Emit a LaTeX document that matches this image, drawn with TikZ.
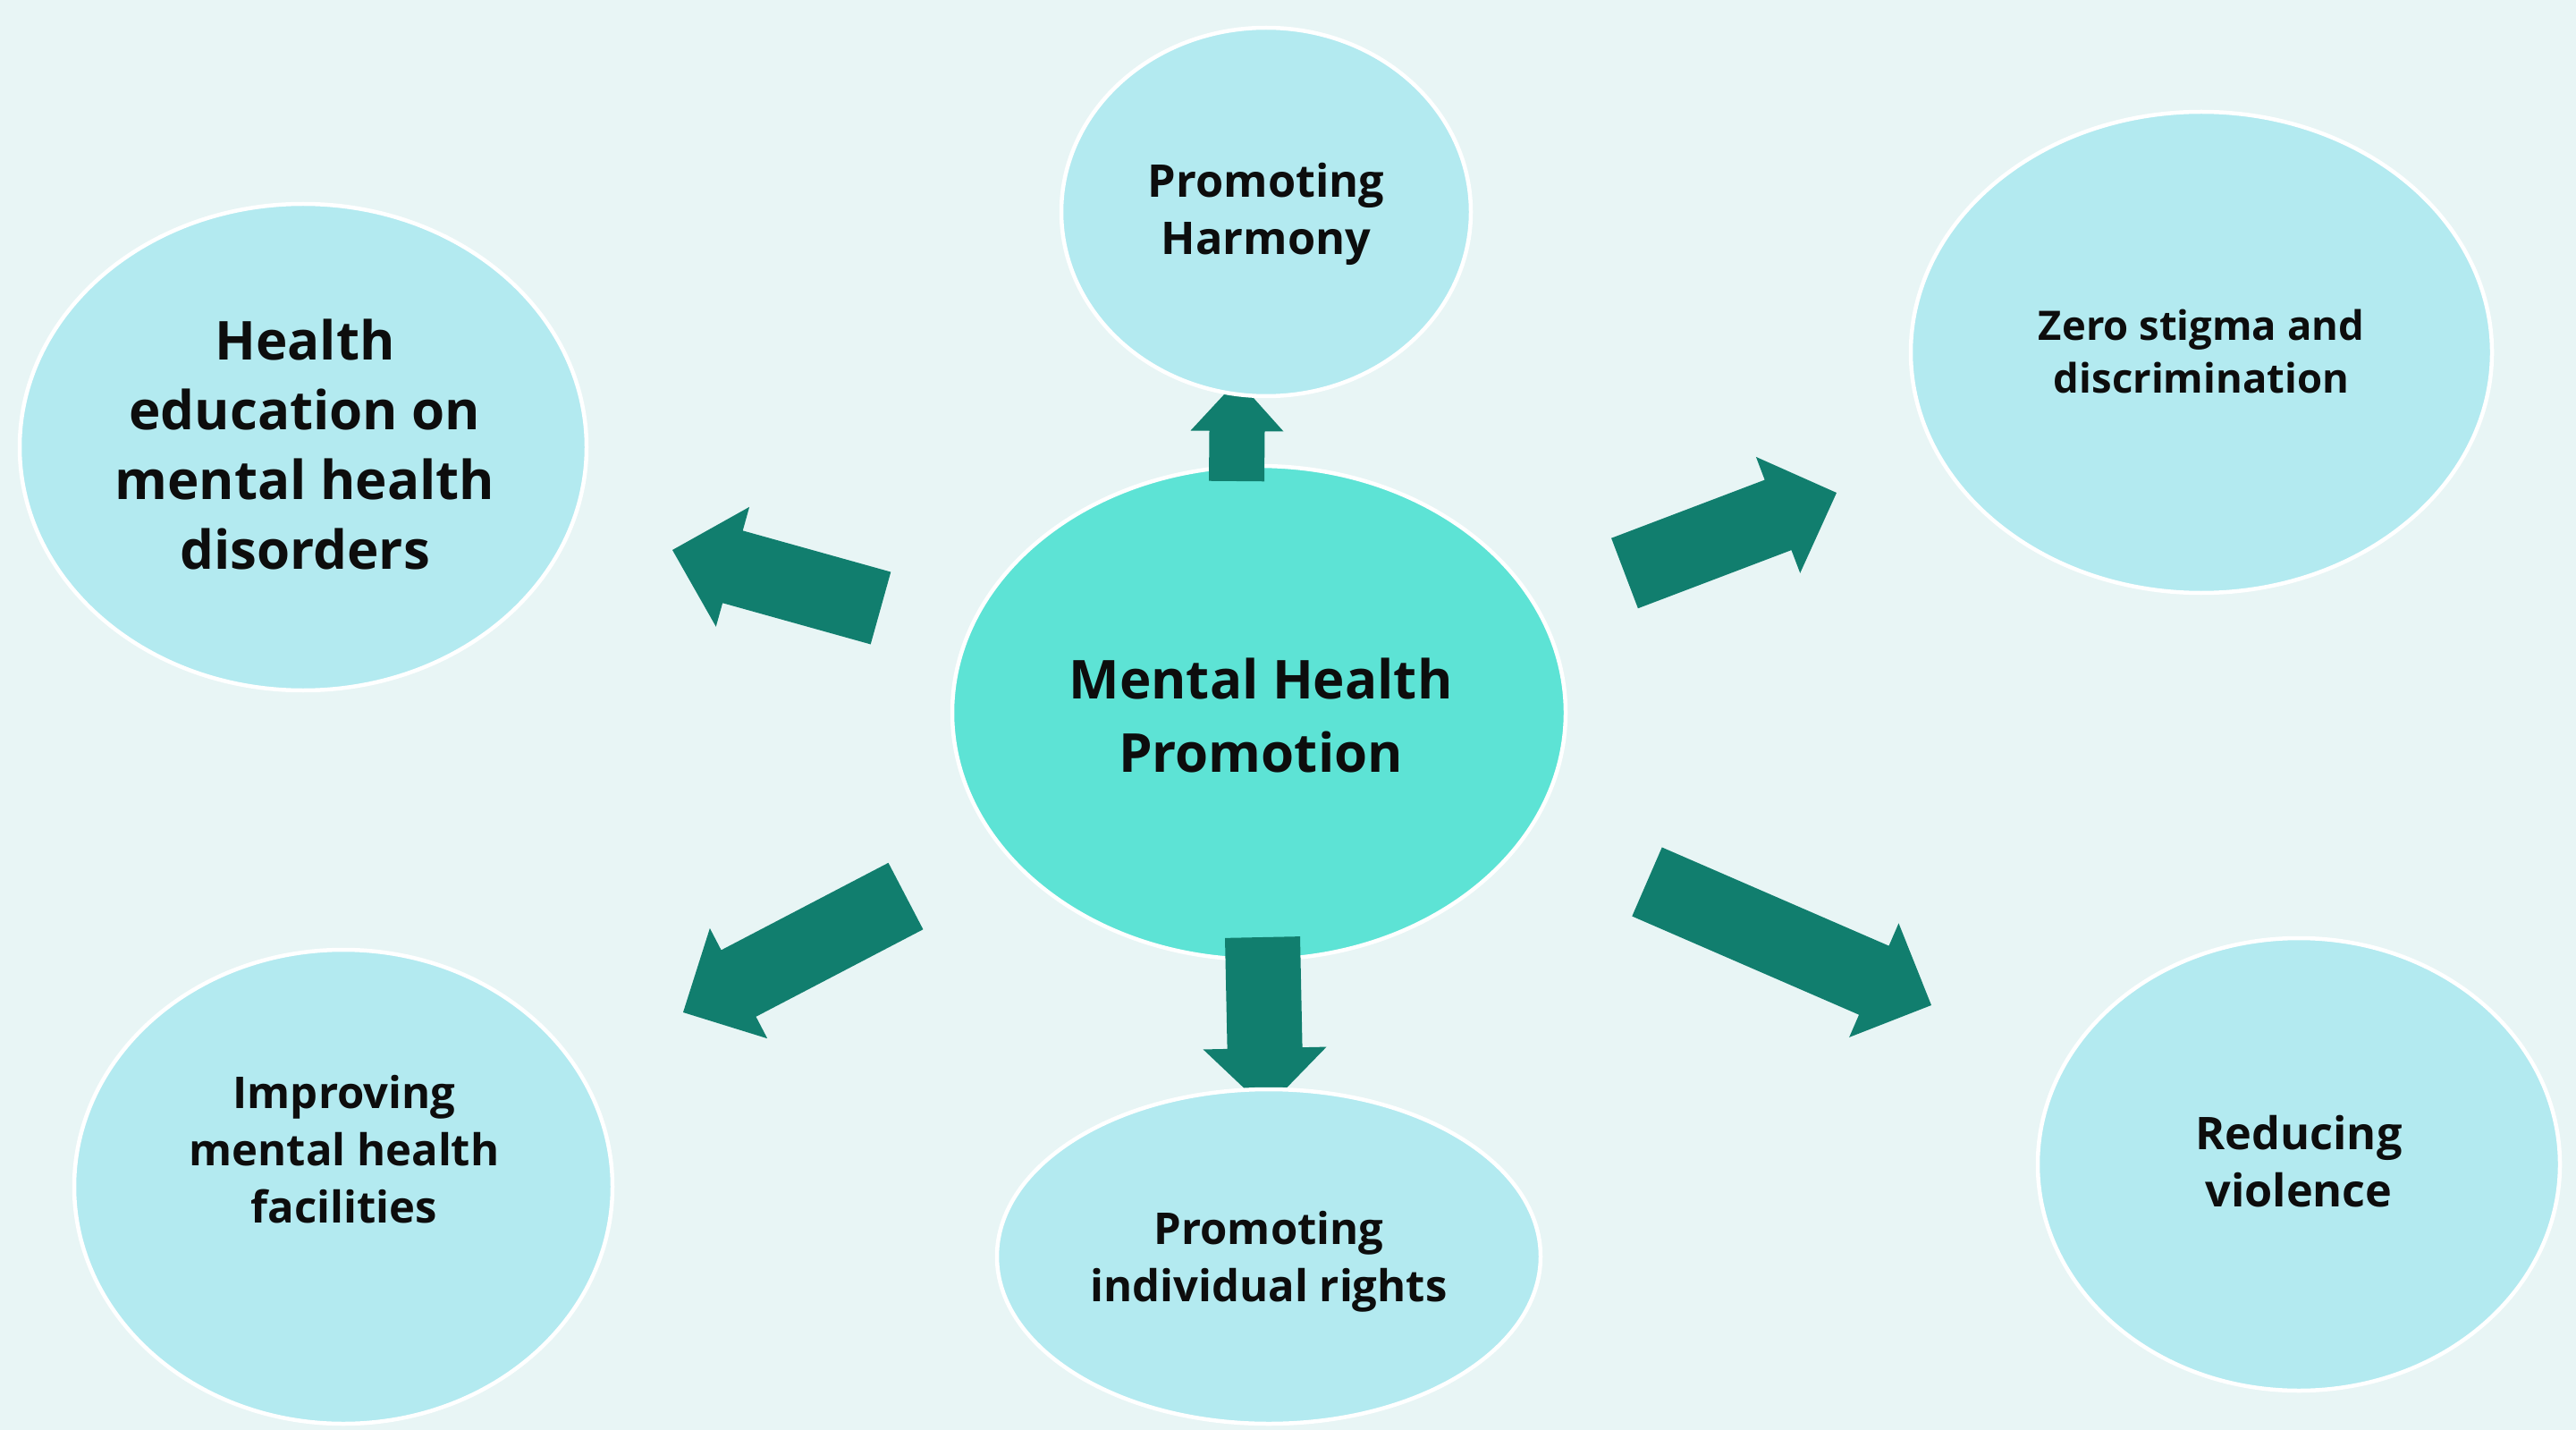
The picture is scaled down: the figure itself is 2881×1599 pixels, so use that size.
\documentclass[tikz,border=0pt]{standalone}
\usepackage{fontspec}
\setmainfont{Open Sans}
\usetikzlibrary{shapes.geometric,calc}

\definecolor{bgcol}{RGB}{232,245,245}
\definecolor{outerfill}{RGB}{179,234,240}
\definecolor{corefill}{RGB}{93,227,213}
\definecolor{arrowcol}{RGB}{17,126,110}
\definecolor{inkcol}{RGB}{13,13,13}

% Block arrow from tail #1 to tip #2:
% #3 half shaft width, #4 half head width, #5 head length
\newcommand\blockarrow[5]{%
  \coordinate (ba-neck) at ($(#2)!#5!(#1)$);
  \fill[arrowbody]
    ($(#1)!#3!90:(#2)$) -- ($(ba-neck)!#3!-90:(#1)$) --
    ($(ba-neck)!#4!-90:(#1)$) -- (#2) --
    ($(ba-neck)!#4!90:(#1)$) -- ($(ba-neck)!#3!90:(#1)$) --
    ($(#1)!#3!-90:(#2)$) -- cycle;
}

\begin{document}
\begin{tikzpicture}[x=0.5pt,y=-0.5pt,
  bubble/.style={ellipse,draw=white,line width=2.25pt,fill=outerfill,inner sep=0pt},
  core/.style={bubble,fill=corefill},
  caption/.style={align=center,text=inkcol,inner sep=0pt},
  bigtext/.style={caption,font=\fontsize{30}{41}\selectfont\bfseries},
  smalltext/.style={caption,font=\fontsize{24.5}{32}\selectfont\bfseries},
  arrowbody/.style={fill=arrowcol}]

  % canvas
  \fill[bgcol] (0,0) rectangle (2881,1599);
  \useasboundingbox (0,0) rectangle (2881,1599);

  % central bubble
  \node[core, minimum width=343pt, minimum height=276pt] (core) at (1408,797) {};

  % arrow end points
  \coordinate (upT) at (1383,538);   \coordinate (upH) at (1384,425);
  \coordinate (dnT) at (1412,1048);  \coordinate (dnH) at (1416,1240);
  \coordinate (luT) at (985,680);    \coordinate (luH) at (752,615);
  \coordinate (ruT) at (1817,641);   \coordinate (ruH) at (2054,551);
  \coordinate (ldT) at (1013,1002);  \coordinate (ldH) at (764,1132);
  \coordinate (rdT) at (1842,986);   \coordinate (rdH) at (2160,1124);

  \blockarrow{upT}{upH}{15.5pt}{26pt}{28.5pt}
  \blockarrow{dnT}{dnH}{21pt}{34.5pt}{34pt}
  \blockarrow{luT}{luH}{21pt}{34.75pt}{35pt}
  \blockarrow{ruT}{ruH}{21pt}{34.75pt}{35pt}
  \blockarrow{ldT}{ldH}{21pt}{34.75pt}{35pt}
  \blockarrow{rdT}{rdH}{21pt}{34.75pt}{35pt}

  % outer bubbles
  \node[bubble, minimum width=229pt, minimum height=206pt] (harmony) at (1416,237) {};
  \node[bubble, minimum width=317pt, minimum height=272pt] (educ) at (339,500) {};
  \node[bubble, minimum width=325pt, minimum height=269pt] (stigma) at (2462,394) {};
  \node[bubble, minimum width=301pt, minimum height=265pt] (facil) at (384,1327) {};
  \node[bubble, minimum width=304pt, minimum height=187pt] (rights) at (1419,1405) {};
  \node[bubble, minimum width=292pt, minimum height=253pt] (violence) at (2571,1302) {};

  % captions
  \node[bigtext] (t-core) at (1410,800) {Mental Health\\Promotion};
  \node[bigtext, font=\fontsize{30}{39}\selectfont\bfseries] (t-educ) at (341,497)
    {Health\\education on\\mental health\\disorders};
  \node[smalltext, font=\fontsize{25.2}{32}\selectfont\bfseries] (t-harmony) at (1416,239)
    {Promoting\\Harmony};
  \node[smalltext, font=\fontsize{22.7}{29.5}\selectfont\bfseries] (t-stigma) at (2462,393)
    {Zero stigma and\\discrimination};
  \node[smalltext] (t-facil) at (385,1285) {Improving\\mental health\\facilities};
  \node[smalltext] (t-rights) at (1419,1411) {Promoting\\individual rights};
  \node[smalltext, font=\fontsize{25.2}{32}\selectfont\bfseries] (t-violence) at (2571,1299)
    {Reducing\\violence};
\end{tikzpicture}
\end{document}
